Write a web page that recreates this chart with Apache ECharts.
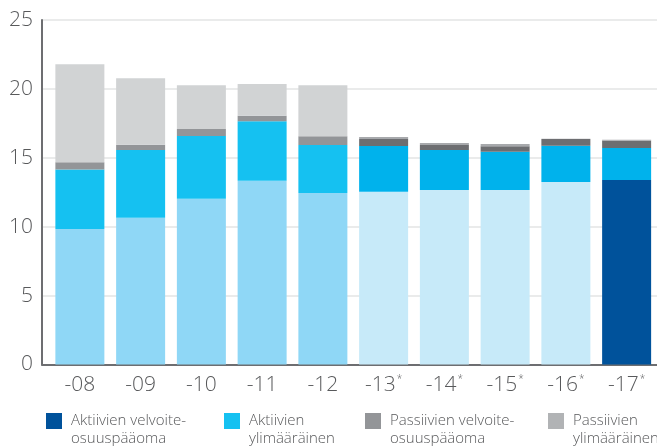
<!DOCTYPE html>
<html>
<head>
<meta charset="utf-8">
<script src="https://cdn.jsdelivr.net/npm/echarts@6/dist/echarts.min.js"></script>
<style>
html,body{margin:0;padding:0;background:#fff;}
#chart{width:657px;height:448px;}
</style>
</head>
<body>
<div id="chart"></div>
<script>
const categories = ['-08', '-09', '-10', '-11', '-12', '-13', '-14', '-15', '-16', '-17'];
const starred = [false, false, false, false, false, true, true, true, true, true];
const seriesNames = ['Aktiivien velvoite-\nosuuspääoma', 'Aktiivien\nylimääräinen', 'Passiivien velvoite-\nosuuspääoma', 'Passiivien\nylimääräinen'];
const aktiivienVelvoite = [9.83, 10.65, 12.03, 13.34, 12.45, 12.54, 12.66, 12.66, 13.24, 13.39];
const aktiivienYlimaarainen = [4.33, 4.92, 4.55, 4.31, 3.48, 3.32, 2.91, 2.78, 2.64, 2.32];
const passiivienVelvoite = [0.51, 0.38, 0.51, 0.41, 0.63, 0.50, 0.36, 0.39, 0.48, 0.53];
const passiivienYlimaarainen = [7.11, 4.82, 3.17, 2.30, 3.70, 0.15, 0.14, 0.17, 0.03, 0.07];
const yTicks = [0, 5, 10, 15, 20, 25];

const legendColors = ['#00529b', '#15c1f1', '#939598', '#b1b3b5'];
const colorsAV = ['#8fd7f6','#8fd7f6','#8fd7f6','#8fd7f6','#8fd7f6','#c7eaf9','#c7eaf9','#c7eaf9','#c7eaf9','#00529b'];
const colorsAY = ['#15c1f1','#15c1f1','#15c1f1','#15c1f1','#15c1f1','#00b2ec','#00b2ec','#00b2ec','#00b2ec','#00b2ec'];
const colorsPV = ['#939598','#939598','#939598','#939598','#939598','#6d6e71','#6d6e71','#6d6e71','#6d6e71','#6d6e71'];
const colorsPY = ['#d1d3d4','#d1d3d4','#d1d3d4','#d1d3d4','#d1d3d4','#a7a9ac','#a7a9ac','#a7a9ac','#a7a9ac','#a7a9ac'];

const FONT = '"Open Sans", "Noto Sans", sans-serif';
const TXT = '#58595b';

function mk(vals, cols) {
  return vals.map((v, i) => ({ value: v, itemStyle: { color: cols[i] } }));
}
const values = [aktiivienVelvoite, aktiivienYlimaarainen, passiivienVelvoite, passiivienYlimaarainen];
const cols = [colorsAV, colorsAY, colorsPV, colorsPY];

const series = values.map((v, k) => ({
  name: seriesNames[k],
  type: 'bar',
  stack: 'total',
  xAxisIndex: 0,
  yAxisIndex: 0,
  barWidth: 49,
  itemStyle: { color: legendColors[k] },
  data: mk(v, cols[k]),
  emphasis: { disabled: true }
}));

const legendLefts = [46, 224, 365, 548];
const legends = seriesNames.map((n, k) => ({
  data: [n],
  left: legendLefts[k],
  top: 394,
  padding: 0,
  itemWidth: 16,
  itemHeight: 16,
  itemGap: 9,
  icon: 'rect',
  selectedMode: false,
  formatter: (name) => '\n' + name,
  textStyle: {
    fontFamily: FONT, fontSize: 15, fontWeight: 300, color: TXT, lineHeight: 18,
    padding: [0, 0, 0, 4]
  }
}));

const chart = echarts.init(document.getElementById('chart'), null, { renderer: 'canvas' });
chart.setOption({
  animation: false,
  backgroundColor: '#fff',
  legend: legends,
  grid: [
    { left: 49.5, top: 20, width: 609, height: 344.5 },
    { left: 42, top: 20, right: 0, height: 344.5 }
  ],
  xAxis: [
    {
      type: 'category', gridIndex: 0, data: categories,
      axisLine: { show: false }, axisTick: { show: false },
      axisLabel: {
        interval: 0,
        margin: 10,
        formatter: (v, i) => starred[i] ? v + '{s|*}' : v,
        fontFamily: FONT, fontSize: 21, fontWeight: 300, color: TXT,
        rich: { s: { fontFamily: FONT, fontSize: 10, color: TXT, verticalAlign: 'top', padding: [0, 0, 10, 1] } }
      }
    },
    {
      type: 'value', gridIndex: 1, min: 0, max: 1,
      axisLine: { show: true, lineStyle: { color: '#6d6e71', width: 2 } },
      axisTick: { show: false }, axisLabel: { show: false }, splitLine: { show: false }
    }
  ],
  yAxis: [
    {
      type: 'value', gridIndex: 0, min: yTicks[0], max: yTicks[yTicks.length - 1], interval: 5,
      axisLine: { show: false }, axisTick: { show: false }, axisLabel: { show: false }, splitLine: { show: false }
    },
    {
      type: 'value', gridIndex: 1, min: yTicks[0], max: yTicks[yTicks.length - 1], interval: 5,
      axisLine: { show: true, lineStyle: { color: '#6d6e71', width: 2 } },
      axisTick: { show: false },
      axisLabel: { margin: 9, fontFamily: FONT, fontSize: 21, fontWeight: 300, color: TXT },
      splitLine: { show: true, lineStyle: { color: '#e3e4e5', width: 1.5 } }
    }
  ],
  series: series
});
</script>
</body>
</html>
